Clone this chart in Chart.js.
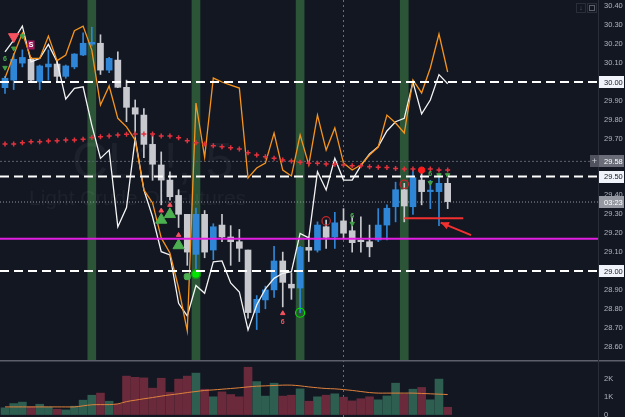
<!DOCTYPE html>
<html>
<head>
<meta charset="utf-8">
<script src="https://cdn.jsdelivr.net/npm/chart.js@4.4.0/dist/chart.umd.min.js"></script>
<style>
    html, body { margin: 0; padding: 0; background: #131722; }
    #wrap { position: relative; width: 625px; height: 417px; overflow: hidden; background: #131722; }
    #main { position: absolute; left: 0; top: 0; }
    #vol { position: absolute; left: 0; top: 360px; }
</style>
</head>
<body>
<div id="wrap">
    <canvas id="main" width="625" height="360"></canvas>
    <canvas id="vol" width="625" height="57"></canvas>
</div>
<script>
// --- candles (5 min bars, CL1!) ---
const opens  = [29.97, 30.01, 30.10, 30.12, 30.00, 30.08, 30.095, 30.03, 30.08, 30.143, 30.20, 30.205, 30.063, 30.116, 29.972, 29.864, 29.825, 29.67, 29.561, 29.481, 29.40, 29.30, 29.088, 29.30, 29.111, 29.243, 29.18, 29.155, 29.111, 28.78, 28.847, 28.90, 29.053, 28.93, 28.91, 29.125, 29.11, 29.234, 29.18, 29.265, 29.213, 29.16, 29.155, 29.164, 29.243, 29.34, 29.43, 29.34, 29.481, 29.42, 29.42, 29.464];
const highs  = [30.03, 30.15, 30.17, 30.13, 30.09, 30.17, 30.11, 30.09, 30.15, 30.26, 30.29, 30.25, 30.13, 30.16, 30.01, 29.905, 29.86, 29.72, 29.63, 29.525, 29.43, 29.30, 29.333, 29.32, 29.25, 29.30, 29.24, 29.22, 29.11, 28.87, 28.92, 29.13, 29.10, 28.99, 29.13, 29.18, 29.26, 29.27, 29.31, 29.33, 29.287, 29.287, 29.243, 29.33, 29.35, 29.47, 29.464, 29.534, 29.525, 29.48, 29.51, 29.49];
const lows   = [29.94, 29.96, 30.08, 30.00, 29.96, 30.01, 30.00, 30.02, 30.07, 30.14, 30.19, 30.04, 30.05, 29.97, 29.79, 29.73, 29.60, 29.48, 29.35, 29.375, 29.23, 29.03, 28.99, 29.07, 29.06, 29.155, 29.03, 29.05, 28.75, 28.69, 28.80, 28.86, 28.81, 28.85, 28.78, 29.05, 29.10, 29.12, 29.12, 29.17, 29.10, 29.10, 29.075, 29.155, 29.164, 29.26, 29.26, 29.30, 29.35, 29.33, 29.24, 29.33];
const closes = [30.02, 30.12, 30.13, 30.01, 30.085, 30.095, 30.03, 30.085, 30.148, 30.205, 30.21, 30.063, 30.125, 29.972, 29.866, 29.83, 29.67, 29.565, 29.481, 29.393, 29.30, 29.10, 29.30, 29.10, 29.234, 29.18, 29.155, 29.12, 28.78, 28.85, 28.90, 29.053, 28.94, 28.91, 29.125, 29.11, 29.243, 29.178, 29.255, 29.20, 29.15, 29.155, 29.128, 29.243, 29.332, 29.43, 29.344, 29.494, 29.42, 29.425, 29.464, 29.367];

// comparison lines (white / orange) and the red cross average
const whiteLine  = [30.159, 30.222, 30.296, 30.107, 30.125, 30.199, 30.107, 29.910, 29.967, 29.975, 29.772, 29.596, 29.640, 29.234, 29.336, 29.702, 29.429, 29.287, 29.102, 29.085, 28.829, 28.762, 28.923, 28.882, 29.048, 29.053, 28.937, 28.889, 28.688, 28.820, 28.905, 28.961, 28.988, 28.996, 29.199, 29.175, 29.525, 29.429, 29.596, 29.481, 29.481, 29.557, 29.619, 29.658, 29.741, 29.790, 29.808, 30.000, 29.831, 29.905, 30.039, 29.991];
const orangeLine = [30.021, 30.143, 30.259, 30.125, 30.125, 30.243, 30.113, 30.143, 30.271, 30.296, 30.169, 29.878, 29.979, 29.808, 29.763, 29.693, 29.429, 29.360, 29.175, 29.095, 28.910, 28.683, 29.889, 29.603, 30.021, 30.000, 29.984, 29.968, 29.492, 29.545, 29.571, 29.730, 29.534, 29.503, 29.720, 29.561, 29.825, 29.640, 29.757, 29.571, 29.534, 29.561, 29.614, 29.656, 29.825, 29.783, 29.730, 30.011, 29.942, 30.074, 30.254, 30.053];
const crossLine  = [29.672, 29.672, 29.679, 29.684, 29.684, 29.688, 29.689, 29.693, 29.693, 29.697, 29.707, 29.711, 29.714, 29.720, 29.723, 29.725, 29.725, 29.725, 29.714, 29.714, 29.705, 29.689, 29.679, 29.672, 29.663, 29.658, 29.652, 29.646, 29.626, 29.614, 29.605, 29.596, 29.587, 29.582, 29.575, 29.570, 29.570, 29.566, 29.565, 29.561, 29.557, 29.557, 29.552, 29.549, 29.547, 29.543, 29.540, 29.540, 29.534, 29.540, 29.534, 29.534];

// volume pane
const volumes = [380, 620, 700, 430, 580, 430, 300, 260, 470, 810, 1090, 1210, 750, 580, 2170, 2100, 2070, 1490, 2050, 1260, 2000, 2170, 2340, 1430, 1000, 1280, 1130, 1000, 2670, 1860, 1040, 1770, 1040, 1090, 1450, 750, 1000, 1090, 1170, 980, 770, 890, 1000, 830, 1050, 1770, 1150, 1430, 1530, 830, 2000, 410];
const volumeMa = [430, 430, 430, 430, 430, 430, 430, 430, 430, 490, 550, 560, 560, 600, 730, 810, 890, 960, 1040, 1110, 1170, 1240, 1300, 1360, 1390, 1430, 1470, 1510, 1560, 1600, 1620, 1640, 1660, 1660, 1620, 1560, 1510, 1470, 1450, 1410, 1360, 1300, 1240, 1210, 1210, 1210, 1210, 1210, 1190, 1170, 1150, 1130];

// axis ticks
const priceTicks = [28.6, 28.7, 28.8, 28.9, 29.0, 29.1, 29.2, 29.3, 29.4, 29.5, 29.6, 29.7, 29.8, 29.9, 30.0, 30.1, 30.2, 30.3, 30.4];
const volumeTicks = [0, 1000, 2000];

// levels and session marks
const bandIdx = [10, 22, 34, 46];
const levelLines = [30.00, 29.50, 29.00];
const magentaLevel = 29.17;
const lastPrice = 29.365;
const prevLevel = 29.58;
const cursorIdx = 39;

// signal markers  {x: bar index, y: price}
const pinkDown = [{x: 1, y: 30.240}];
const greenDownSmall = [{x: 0, y: 30.076}, {x: 1, y: 30.178}, {x: 2, y: 30.243}, {x: 40, y: 29.251}, {x: 49, y: 29.467}, {x: 50, y: 29.508}, {x: 51, y: 29.508}];
const greenUpBig = [{x: 18, y: 29.270}, {x: 19, y: 29.300}, {x: 20, y: 29.135}];
const redUpSmall = [{x: 18, y: 29.319}, {x: 19, y: 29.349}, {x: 20, y: 29.190}, {x: 32, y: 28.776}];
const greenSquare = [{x: 21, y: 28.970}];
const greenDot = [{x: 22, y: 28.984}];
const greenRing = [{x: 34, y: 28.779}];
const redRings = [{x: 37, y: 29.265}, {x: 46, y: 29.459}];
const redDot = [{x: 48, y: 29.534}];
const textMarks = [
    {x: 0, y: 30.120, t: '6', c: '#4caf50'},
    {x: 40, y: 29.293, t: '6', c: '#4caf50'},
    {x: 49, y: 29.512, t: '6', c: '#4caf50'},
    {x: 32, y: 28.730, t: '6', c: '#f7525f'}
];
const sBadge = {x: 3, y: 30.196};
const supportLine = [{x: 46, y: 29.279}, {x: 52.8, y: 29.279}];
const arrowFrom = {x: 53.7, y: 29.190};
const arrowTo = {x: 50.2, y: 29.256};

const BLUE = '#2f86d6', GREY = '#c8c9ce';
const up = opens.map((o, i) => closes[i] >= o);
const candleCol = up.map(u => u ? BLUE : GREY);
const X_MIN = -0.576, X_MAX = 68.32;
const FONT = '"Liberation Sans", Arial, sans-serif';

function hline(ctx, a, py, color, width, dash) {
    ctx.save();
    ctx.strokeStyle = color;
    ctx.lineWidth = width;
    ctx.setLineDash(dash || []);
    ctx.beginPath();
    ctx.moveTo(a.left, py);
    ctx.lineTo(a.right, py);
    ctx.stroke();
    ctx.restore();
}

function axisBox(ctx, py, text, bg, fg) {
    ctx.fillStyle = bg;
    ctx.fillRect(599, Math.round(py) - 6, 25, 12);
    ctx.fillStyle = fg;
    ctx.font = '7.5px ' + FONT;
    ctx.textAlign = 'left';
    ctx.textBaseline = 'middle';
    ctx.fillText(text, 604, py + 0.5);
}

const overlay = {
    id: 'overlay',
    beforeDatasetsDraw(chart) {
        const {ctx, chartArea: a, scales: {x, y}} = chart;
        ctx.save();
        // session bands
        ctx.fillStyle = '#2b5536';
        bandIdx.forEach(i => {
            const x0 = x.getPixelForValue(i - 0.5), x1 = x.getPixelForValue(i + 0.5);
            ctx.fillRect(x0, a.top, x1 - x0, a.bottom - a.top);
        });
        // watermark
        ctx.fillStyle = 'rgba(255,255,255,0.045)';
        ctx.font = '50px ' + FONT;
        ctx.fillText('CL1!, 5', 72, 178);
        ctx.font = '21px ' + FONT;
        ctx.fillText('Light Crude Oil Futures', 29, 205);
        // cursor line
        const cx = x.getPixelForValue(cursorIdx);
        ctx.strokeStyle = '#6a6d78';
        ctx.lineWidth = 1;
        ctx.setLineDash([2, 3]);
        ctx.beginPath();
        ctx.moveTo(cx, a.top);
        ctx.lineTo(cx, a.bottom);
        ctx.stroke();
        ctx.restore();
        hline(ctx, a, y.getPixelForValue(prevLevel), '#5d606b', 1, [2, 2]);
        hline(ctx, a, y.getPixelForValue(lastPrice), '#9598a1', 1, [1, 2]);
    },
    afterDatasetsDraw(chart) {
        const {ctx, chartArea: a, scales: {x, y}} = chart;
        levelLines.forEach(v => hline(ctx, a, y.getPixelForValue(v), '#ffffff', 2, [9, 5]));
        hline(ctx, a, y.getPixelForValue(magentaLevel), '#e21fe0', 2);

        ctx.save();
        // red support line + arrow
        ctx.strokeStyle = '#f2302f';
        ctx.lineWidth = 2;
        ctx.beginPath();
        ctx.moveTo(x.getPixelForValue(supportLine[0].x), y.getPixelForValue(supportLine[0].y));
        ctx.lineTo(x.getPixelForValue(supportLine[1].x), y.getPixelForValue(supportLine[1].y));
        ctx.stroke();
        const ax0 = x.getPixelForValue(arrowFrom.x), ay0 = y.getPixelForValue(arrowFrom.y);
        const ax1 = x.getPixelForValue(arrowTo.x), ay1 = y.getPixelForValue(arrowTo.y);
        const ang = Math.atan2(ay1 - ay0, ax1 - ax0);
        ctx.beginPath();
        ctx.moveTo(ax0, ay0);
        ctx.lineTo(ax1, ay1);
        ctx.stroke();
        ctx.fillStyle = '#f2302f';
        ctx.beginPath();
        ctx.moveTo(ax1, ay1);
        ctx.lineTo(ax1 - 9 * Math.cos(ang - 0.45), ay1 - 9 * Math.sin(ang - 0.45));
        ctx.lineTo(ax1 - 9 * Math.cos(ang + 0.45), ay1 - 9 * Math.sin(ang + 0.45));
        ctx.closePath();
        ctx.fill();

        // small text markers
        ctx.font = 'bold 7px ' + FONT;
        ctx.textAlign = 'center';
        ctx.textBaseline = 'middle';
        textMarks.forEach(m => {
            ctx.fillStyle = m.c;
            ctx.fillText(m.t, x.getPixelForValue(m.x), y.getPixelForValue(m.y));
        });
        const bx = x.getPixelForValue(sBadge.x), by = y.getPixelForValue(sBadge.y);
        ctx.fillStyle = '#a3195b';
        ctx.fillRect(bx - 3.5, by - 4.5, 7, 9);
        ctx.fillStyle = '#ffffff';
        ctx.fillText('S', bx, by + 0.5);
        ctx.restore();
    },
    afterDraw(chart) {
        const {ctx, scales: {y}} = chart;
        ctx.save();
        ctx.fillStyle = '#2a2e39';
        ctx.fillRect(598, 0, 1, 360);
        levelLines.forEach(v => axisBox(ctx, y.getPixelForValue(v), v.toFixed(2), '#f0f3fa', '#131722'));
        axisBox(ctx, y.getPixelForValue(prevLevel), prevLevel.toFixed(2), '#6a6d78', '#ffffff');
        axisBox(ctx, y.getPixelForValue(lastPrice), '03:23', '#9598a1', '#ffffff');
        // crosshair "+" button next to the 29.58 label
        const py = y.getPixelForValue(prevLevel);
        ctx.fillStyle = '#50535e';
        ctx.fillRect(590, Math.round(py) - 6, 9, 12);
        ctx.fillStyle = '#d1d4dc';
        ctx.font = '9px ' + FONT;
        ctx.textAlign = 'center';
        ctx.textBaseline = 'middle';
        ctx.fillText('+', 594.5, py + 0.5);
        // top right buttons
        ctx.strokeStyle = '#2a2e39';
        ctx.lineWidth = 1;
        ctx.strokeRect(576.5, 3.5, 9, 9);
        ctx.strokeRect(587.5, 3.5, 9, 9);
        ctx.fillStyle = '#5d606b';
        ctx.font = '7px ' + FONT;
        ctx.fillText('↓', 581, 8.5);
        ctx.strokeStyle = '#5d606b';
        ctx.strokeRect(589.5, 5.5, 5, 5);
        ctx.restore();
    }
};

const pts = arr => arr.map((v, i) => ({x: i, y: v}));

new Chart(document.getElementById('main'), {
    type: 'bar',
    data: {
        datasets: [
            {type: 'bar', data: opens.map((o, i) => ({x: i, y: [lows[i], highs[i]]})), backgroundColor: candleCol, barThickness: 1, grouped: false, order: 20},
            {type: 'bar', data: opens.map((o, i) => ({x: i, y: [o, closes[i]]})), backgroundColor: candleCol, barThickness: 6, minBarLength: 1.5, grouped: false, order: 19},
            {type: 'line', data: pts(whiteLine), borderColor: '#f4f4f4', borderWidth: 1.3, pointRadius: 0, tension: 0, order: 18},
            {type: 'line', data: pts(orangeLine), borderColor: '#f7941d', borderWidth: 1.3, pointRadius: 0, tension: 0, order: 17},
            {type: 'scatter', data: pts(crossLine), pointStyle: 'cross', pointRadius: 2.5, borderColor: '#e2323e', borderWidth: 1.5, order: 16},
            {type: 'scatter', data: pinkDown, pointStyle: 'triangle', rotation: 180, pointRadius: 6, backgroundColor: '#f7525f', borderColor: '#f7525f', order: 5},
            {type: 'scatter', data: greenDownSmall, pointStyle: 'triangle', rotation: 180, pointRadius: 2.6, backgroundColor: '#43a047', borderColor: '#43a047', order: 5},
            {type: 'scatter', data: greenUpBig, pointStyle: 'triangle', pointRadius: 6.5, backgroundColor: '#4caf50', borderColor: '#4caf50', order: 5},
            {type: 'scatter', data: redUpSmall, pointStyle: 'triangle', pointRadius: 2.6, backgroundColor: '#f7525f', borderColor: '#f7525f', order: 5},
            {type: 'scatter', data: greenSquare, pointStyle: 'rectRounded', pointRadius: 3.5, backgroundColor: '#4caf50', borderColor: '#4caf50', order: 5},
            {type: 'scatter', data: greenDot, pointStyle: 'circle', pointRadius: 4.5, backgroundColor: '#00e600', borderColor: '#1b8a1b', borderWidth: 1.5, order: 4},
            {type: 'scatter', data: greenRing, pointStyle: 'circle', pointRadius: 4.5, backgroundColor: 'rgba(0,0,0,0)', borderColor: '#00e600', borderWidth: 1.2, order: 4},
            {type: 'scatter', data: redRings, pointStyle: 'circle', pointRadius: 4.2, backgroundColor: 'rgba(0,0,0,0)', borderColor: '#c0262b', borderWidth: 1.2, order: 4},
            {type: 'scatter', data: redDot, pointStyle: 'circle', pointRadius: 3.2, backgroundColor: '#ff1c1c', borderColor: '#ff1c1c', order: 4}
        ]
    },
    options: {
        responsive: false,
        animation: false,
        devicePixelRatio: 1,
        layout: {padding: 0, autoPadding: false},
        plugins: {legend: {display: false}, tooltip: {enabled: false}},
        scales: {
            x: {type: 'linear', min: X_MIN, max: X_MAX, display: false, offset: false, grid: {display: false}},
            y: {
                position: 'right',
                min: 28.529,
                max: 30.434,
                grid: {display: false, drawTicks: false},
                border: {display: false},
                afterBuildTicks: s => { s.ticks = priceTicks.map(v => ({value: v})); },
                afterFit: s => { s.width = 27; s.paddingTop = 0; s.paddingBottom = 0; },
                ticks: {color: '#b2b5be', padding: 6, font: {size: 7.5, family: FONT}, callback: v => v.toFixed(2)}
            }
        }
    },
    plugins: [overlay]
});

const volOverlay = {
    id: 'volOverlay',
    beforeDatasetsDraw(chart) {
        const {ctx, chartArea: a, scales: {x}} = chart;
        ctx.save();
        const cx = x.getPixelForValue(cursorIdx);
        ctx.strokeStyle = '#6a6d78';
        ctx.setLineDash([2, 3]);
        ctx.beginPath();
        ctx.moveTo(cx, a.top);
        ctx.lineTo(cx, a.bottom);
        ctx.stroke();
        ctx.restore();
    },
    afterDraw(chart) {
        const {ctx} = chart;
        ctx.save();
        ctx.fillStyle = '#5d606b';
        ctx.fillRect(0, 0, 625, 1.5);
        ctx.fillStyle = '#2a2e39';
        ctx.fillRect(598, 0, 1, 57);
        ctx.restore();
    }
};

new Chart(document.getElementById('vol'), {
    type: 'bar',
    data: {
        datasets: [
            {type: 'line', data: pts(volumeMa), borderColor: '#e0823c', borderWidth: 1, pointRadius: 0, tension: 0.3, order: 1},
            {type: 'bar', data: pts(volumes), backgroundColor: up.map(u => u ? '#2d5e50' : '#6a2a3b'), barThickness: 8, grouped: false, order: 2}
        ]
    },
    options: {
        responsive: false,
        animation: false,
        devicePixelRatio: 1,
        layout: {padding: 0, autoPadding: false},
        plugins: {legend: {display: false}, tooltip: {enabled: false}},
        scales: {
            x: {type: 'linear', min: X_MIN, max: X_MAX, display: false, offset: false, grid: {display: false}},
            y: {
                position: 'right',
                min: -140,
                max: 3080,
                grid: {display: false, drawTicks: false},
                border: {display: false},
                afterBuildTicks: s => { s.ticks = volumeTicks.map(v => ({value: v})); },
                afterFit: s => { s.width = 27; s.paddingTop = 0; s.paddingBottom = 0; },
                ticks: {color: '#b2b5be', padding: 6, font: {size: 7.5, family: FONT}, callback: v => v === 0 ? '0' : (v / 1000) + 'K'}
            }
        }
    },
    plugins: [volOverlay]
});
</script>
</body>
</html>
